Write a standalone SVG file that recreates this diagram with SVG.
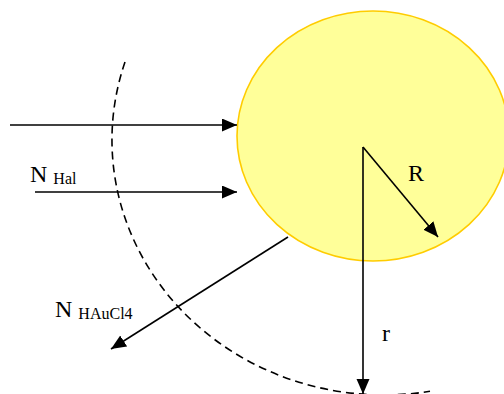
<svg xmlns="http://www.w3.org/2000/svg" width="504" height="394" viewBox="0 0 504 394">
<style>
.ln{stroke:#000;stroke-width:1.6;fill:none;marker-end:url(#ah)}
.t{font-family:"Liberation Serif","Times New Roman",serif;fill:#000}
</style>
<defs>
<marker id="ah" markerUnits="userSpaceOnUse" markerWidth="16" markerHeight="14" refX="15" refY="6.5" orient="auto">
<path d="M0,0 L15,6.5 L0,13 Z" fill="#000"/>
</marker>
</defs>
<rect width="504" height="394" fill="#fff"/>
<g id="particle">
<ellipse cx="373" cy="136" rx="136" ry="125" fill="#FFFF99" stroke="#FFCC00" stroke-width="1.6"/>
</g>
<g id="boundary">
<path d="M125,62 A272,255 0 0 0 430,391.3" fill="none" stroke="#000" stroke-width="1.6" stroke-dasharray="8,5"/>
</g>
<g id="connectors">
<line class="ln" x1="10" y1="125" x2="237" y2="125"/>
<line class="ln" x1="35" y1="192" x2="237" y2="192"/>
<line class="ln" x1="288" y1="237" x2="111" y2="349"/>
<line class="ln" x1="363" y1="147" x2="438" y2="237"/>
<line class="ln" x1="363" y1="147" x2="363" y2="394"/>
</g>
<g id="labels">
<text class="t" x="30" y="182" font-size="24">N <tspan font-size="16" dy="2">Hal</tspan></text>
<text class="t" x="55" y="317" font-size="24">N <tspan font-size="16" dy="2">HAuCl4</tspan></text>
<text class="t" x="408" y="181" font-size="24">R</text>
<text class="t" x="382" y="341" font-size="24">r</text>
</g>
</svg>
